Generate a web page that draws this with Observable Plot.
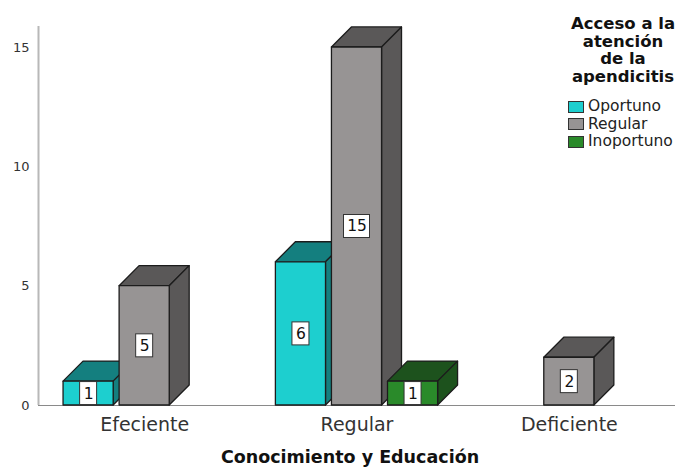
<!DOCTYPE html>
<html>
<head>
<meta charset="utf-8">
<script src="https://cdn.jsdelivr.net/npm/d3@7"></script>
<script src="https://cdn.jsdelivr.net/npm/@observablehq/plot@0.6"></script>
<style>
  html, body { margin: 0; padding: 0; background: #fff; }
  #chart { position: relative; width: 685px; height: 468px; font-family: "DejaVu Sans", sans-serif; }
  #legend { position: absolute; left: 556px; top: 15px; width: 134px; color: #111; }
  #legend .title { font-weight: bold; font-size: 16.5px; line-height: 17.5px; text-align: center; }
  #legend .items { margin-top: 13px; margin-left: 12px; }
  #legend .item { display: flex; align-items: center; font-size: 15.5px; line-height: 17.5px; height: 17.5px; color: #222; }
  #legend .sw { width: 16px; height: 12px; border: 1px solid #333; margin-right: 4px; box-sizing: border-box; }
</style>
</head>
<body>
<div id="chart"></div>
<script>
// Counts per knowledge level (x) and access category (series)
const categories = ["Efeciente", "Regular", "Deficiente"];
const seriesNames = ["Oportuno", "Regular", "Inoportuno"];
const oportuno = [1, 6, 0];
const regular = [5, 15, 2];
const inoportuno = [0, 1, 0];
const yTicks = [0, 5, 10, 15];
const xTitle = "Conocimiento y Educación";
const legendTitle = ["Acceso a la", "atención", "de la", "apendicitis"];

// Styling
const frontColors = ["#1dcfcf", "#979494", "#2a8a2a"];
const shadeColors = ["#147f7f", "#5a5858", "#1d521d"];

// Bar layout in scale units: spacing, width and the oblique depth of the 3D boxes
const STEP = 0.264, BAR = 0.236, DEPTH_X = 0.094, DEPTH_Y = 0.84, Y_MAX = 15.88;

const seriesValues = [oportuno, regular, inoportuno];

// Each bar becomes three faces (top, side, front), drawn bar by bar from left to right
const faces = [];
const labels = [];
categories.forEach((cat, i) => {
  seriesNames.forEach((s, j) => {
    const v = seriesValues[j][i];
    if (!v) return;
    const x0 = i + (j - 1) * STEP - BAR / 2;
    const x1 = x0 + BAR;
    const key = `${i}-${j}`;
    const shade = shadeColors[j], front = frontColors[j];
    faces.push(
      {key: key + "-top", fill: shade, x: x0, y1: v, y2: v},
      {key: key + "-top", fill: shade, x: x0 + DEPTH_X, y1: v, y2: v + DEPTH_Y},
      {key: key + "-top", fill: shade, x: x1, y1: v, y2: v + DEPTH_Y},
      {key: key + "-top", fill: shade, x: x1 + DEPTH_X, y1: v + DEPTH_Y, y2: v + DEPTH_Y},
      {key: key + "-side", fill: shade, x: x1, y1: 0, y2: v},
      {key: key + "-side", fill: shade, x: x1 + DEPTH_X, y1: DEPTH_Y, y2: v + DEPTH_Y},
      {key: key + "-front", fill: front, x: x0, y1: 0, y2: v},
      {key: key + "-front", fill: front, x: x1, y1: 0, y2: v}
    );
    labels.push({x: (x0 + x1) / 2, y: v / 2, value: v, text: String(v)});
  });
});

const narrow = labels.filter(d => d.text.length === 1);
const wide = labels.filter(d => d.text.length > 1);

const plot = Plot.plot({
  width: 685,
  height: 468,
  marginTop: 26,
  marginBottom: 63,
  marginLeft: 38,
  marginRight: 10,
  style: {fontFamily: "DejaVu Sans", fontSize: "13px", color: "#333", background: "white"},
  x: {domain: [-0.5, 2.5], axis: null},
  y: {domain: [0, Y_MAX], ticks: yTicks, tickSize: 0, tickPadding: 9, label: null},
  color: {type: "identity"},
  marks: [
    Plot.ruleX([-0.5], {y1: 0, y2: Y_MAX, stroke: "#b8b8b8", strokeWidth: 2}),
    Plot.ruleY([0], {stroke: "#8a8a8a", strokeWidth: 1}),
    Plot.area(faces, {
      x1: "x", y1: "y1", y2: "y2", z: "key", fill: "fill",
      stroke: "#1c1c1c", strokeWidth: 1.3, strokeLinejoin: "round"
    }),
    Plot.rect(narrow, {
      x1: "x", x2: "x", y1: "y", y2: "y",
      insetLeft: -8.5, insetRight: -8.5, insetTop: -11.5, insetBottom: -11.5,
      fill: "white", stroke: "#333", strokeWidth: 1
    }),
    Plot.rect(wide, {
      x1: "x", x2: "x", y1: "y", y2: "y",
      insetLeft: -13, insetRight: -13, insetTop: -11.5, insetBottom: -11.5,
      fill: "white", stroke: "#333", strokeWidth: 1
    }),
    Plot.text(labels, {
      x: "x", y: "y", text: "text",
      fontSize: 15.5, fill: "#111", fontFamily: "DejaVu Sans"
    }),
    Plot.text(categories, {
      x: (d, i) => i, y: () => 0, text: d => d,
      dy: 25, lineAnchor: "bottom", fontSize: 19, fill: "#333", fontFamily: "DejaVu Sans"
    }),
    Plot.text([xTitle], {
      x: () => 1, y: () => 0, text: d => d,
      dx: -7, dy: 57, lineAnchor: "bottom", fontSize: 17.5, fontWeight: "bold",
      fill: "#111", fontFamily: "DejaVu Sans"
    })
  ]
});

const chart = document.getElementById("chart");
chart.appendChild(plot);

// Legend for the access categories
const legend = document.createElement("div");
legend.id = "legend";
legend.innerHTML =
  `<div class="title">${legendTitle.join("<br>")}</div>` +
  `<div class="items">` +
  seriesNames.map((s, j) =>
    `<div class="item"><span class="sw" style="background:${frontColors[j]}"></span>${s}</div>`
  ).join("") +
  `</div>`;
chart.appendChild(legend);
</script>
</body>
</html>
